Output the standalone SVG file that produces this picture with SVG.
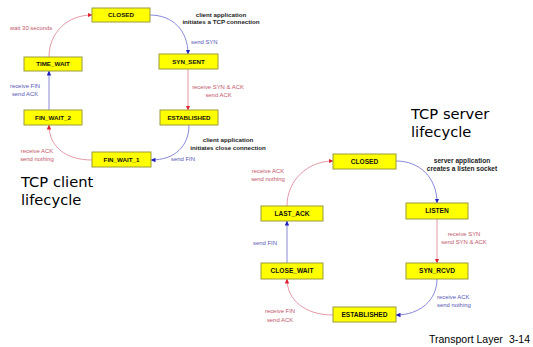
<svg xmlns="http://www.w3.org/2000/svg" width="533" height="347" viewBox="0 0 533 347">
<style>
.box{fill:#ffff00;stroke:#9a9a3c;stroke-width:1}
.bl{font-family:"Liberation Sans",Arial,sans-serif;font-weight:bold;fill:#111;text-anchor:middle}
.c .bl{font-size:6.2px}
.s .bl{font-size:6.6px}
.note{font-family:"Liberation Sans",Arial,sans-serif;font-weight:bold;fill:#222;text-anchor:middle}
.lab{font-family:"Liberation Sans",Arial,sans-serif;font-size:5.9px}
.r{fill:#c2566a}
.b{fill:#5656b4}
.lr{fill:none;stroke:#dc8090;stroke-width:0.8}
.lb{fill:none;stroke:#6a6ad0;stroke-width:0.8}
.title{font-family:"DejaVu Sans",sans-serif;font-size:14.7px;fill:#000}
.foot{font-family:"Liberation Sans",Arial,sans-serif;font-size:10.5px;fill:#000}
</style>
<defs>
<marker id="ar" markerWidth="5" markerHeight="5" refX="4.5" refY="2.5" orient="auto" markerUnits="userSpaceOnUse"><path d="M0,0.3 L5,2.5 L0,4.7 Z" fill="#e02030"/></marker>
<marker id="ab" markerWidth="5" markerHeight="5" refX="4.5" refY="2.5" orient="auto" markerUnits="userSpaceOnUse"><path d="M0,0.3 L5,2.5 L0,4.7 Z" fill="#2020c0"/></marker>
</defs>

<g id="connectors">
<path class="lb" d="M150,15 C172,15 188,30 188,54" marker-end="url(#ab)"/>
<path class="lr" d="M188,69 L188,110" marker-end="url(#ar)"/>
<path class="lb" d="M189,125 C189,146 175,160 151,160" marker-end="url(#ab)"/>
<path class="lr" d="M92,160 C65,160 49,146 49,125" marker-end="url(#ar)"/>
<path class="lb" d="M49,110 L49,71" marker-end="url(#ab)"/>
<path class="lr" d="M49,57 C49,32 68,15 92,15" marker-end="url(#ar)"/>

<path class="lb" d="M396,161 C420,161 437,178 437,203" marker-end="url(#ab)"/>
<path class="lr" d="M437,219 L437,263" marker-end="url(#ar)"/>
<path class="lb" d="M437,279 C437,300 420,315 396,315" marker-end="url(#ab)"/>
<path class="lr" d="M333,315 C305,315 287,300 287,279" marker-end="url(#ar)"/>
<path class="lb" d="M287,263 L287,221" marker-end="url(#ab)"/>
<path class="lr" d="M287,206 C287,180 308,161 333,161" marker-end="url(#ar)"/>
</g>

<g class="c">
<g id="c_closed"><rect class="box" x="92" y="8" width="58" height="14"/><text class="bl" x="121" y="17.3">CLOSED</text></g>
<g id="c_syn_sent"><rect class="box" x="159" y="54" width="59" height="15"/><text class="bl" x="188.5" y="63.8">SYN_SENT</text></g>
<g id="c_established"><rect class="box" x="160" y="110" width="58" height="15"/><text class="bl" x="189" y="119.8">ESTABLISHED</text></g>
<g id="c_fin_wait_1"><rect class="box" x="92" y="152" width="59" height="15"/><text class="bl" x="121.5" y="161.8">FIN_WAIT_1</text></g>
<g id="c_fin_wait_2"><rect class="box" x="24" y="110" width="58" height="15"/><text class="bl" x="53" y="119.8">FIN_WAIT_2</text></g>
<g id="c_time_wait"><rect class="box" x="24" y="57" width="58" height="14"/><text class="bl" x="53" y="66.3">TIME_WAIT</text></g>
</g>

<g class="s">
<g id="s_closed"><rect class="box" x="333" y="154" width="63" height="15"/><text class="bl" x="364.5" y="163.8">CLOSED</text></g>
<g id="s_listen"><rect class="box" x="406" y="203" width="62" height="16"/><text class="bl" x="437" y="213.3">LISTEN</text></g>
<g id="s_syn_rcvd"><rect class="box" x="406" y="263" width="62" height="16"/><text class="bl" x="437" y="273.3">SYN_RCVD</text></g>
<g id="s_established"><rect class="box" x="333" y="307" width="63" height="15"/><text class="bl" x="364.5" y="316.8">ESTABLISHED</text></g>
<g id="s_close_wait"><rect class="box" x="261" y="263" width="62" height="16"/><text class="bl" x="292" y="273.3">CLOSE_WAIT</text></g>
<g id="s_last_ack"><rect class="box" x="261" y="206" width="62" height="15"/><text class="bl" x="292" y="215.8">LAST_ACK</text></g>
</g>

<g id="labels">
<text class="note" font-size="6.2" x="221" y="17">client application</text>
<text class="note" font-size="6.2" x="221" y="24.3">initiates a TCP connection</text>
<text class="lab b" x="191" y="44">send SYN</text>
<text class="lab r" x="218" y="89" text-anchor="middle">receive SYN &amp; ACK</text>
<text class="lab r" x="218.5" y="97" text-anchor="middle">send ACK</text>
<text class="note" font-size="6.2" x="228" y="142">client application</text>
<text class="note" font-size="6.2" x="228" y="150">initiates close connection</text>
<text class="lab b" x="171" y="161">send FIN</text>
<text class="lab r" x="37" y="153" text-anchor="middle">receive  ACK</text>
<text class="lab r" x="37" y="160.5" text-anchor="middle">send nothing</text>
<text class="lab b" x="25" y="88" text-anchor="middle">receive FIN</text>
<text class="lab b" x="25" y="96" text-anchor="middle">send ACK</text>
<text class="lab r" x="10" y="30">wait 30 seconds</text>

<text class="note" font-size="6.6" x="462" y="163">server application</text>
<text class="note" font-size="6.6" x="462" y="170.5">creates a listen socket</text>
<text class="lab r" x="464" y="236" text-anchor="middle">receive SYN</text>
<text class="lab r" x="464" y="244" text-anchor="middle">send SYN &amp; ACK</text>
<text class="lab b" x="437" y="298.5">receive  ACK</text>
<text class="lab b" x="437" y="307">send nothing</text>
<text class="lab r" x="280" y="313" text-anchor="middle">receive FIN</text>
<text class="lab r" x="280" y="321.5" text-anchor="middle">send ACK</text>
<text class="lab b" x="265" y="245" text-anchor="middle">send FIN</text>
<text class="lab r" x="268" y="173" text-anchor="middle">receive  ACK</text>
<text class="lab r" x="268" y="181" text-anchor="middle">send nothing</text>

<text class="title" x="21" y="187">TCP client</text>
<text class="title" x="21" y="205">lifecycle</text>
<text class="title" x="411" y="119">TCP server</text>
<text class="title" x="411" y="137">lifecycle</text>

<text class="foot" x="429" y="343">Transport Layer</text>
<text class="foot" x="509" y="343">3-14</text>
</g>
</svg>
